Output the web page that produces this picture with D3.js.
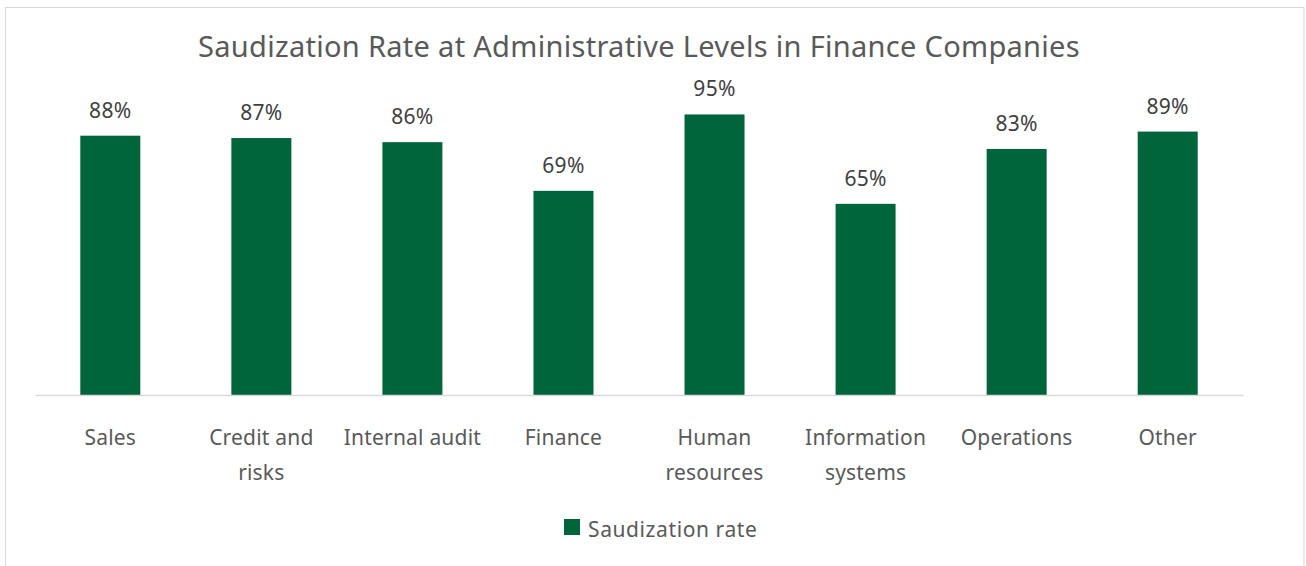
<!DOCTYPE html>
<html>
<head>
<meta charset="utf-8">
<script src="https://cdn.jsdelivr.net/npm/d3@7"></script>
<style>
  html, body { margin: 0; padding: 0; background: #fff; }
  svg { display: block; }
  text { font-family: "Noto Sans", sans-serif; }
</style>
</head>
<body>
<svg id="chart" width="1306" height="566"></svg>
<script>
const title = "Saudization Rate at Administrative Levels in Finance Companies";
const categories = ["Sales", "Credit and risks", "Internal audit", "Finance", "Human resources", "Information systems", "Operations", "Other"];
const values = [0.879, 0.871, 0.857, 0.692, 0.951, 0.648, 0.834, 0.893];
const seriesName = "Saudization rate";

const svg = d3.select("#chart");
const baseline = 395;

svg.append("rect")
  .attr("x", 5.5).attr("y", 7.5)
  .attr("width", 1298.5).attr("height", 600)
  .attr("fill", "#fff").attr("stroke", "#d9d9d9").attr("stroke-width", 1);

svg.append("text")
  .attr("x", 639).attr("y", 57)
  .attr("text-anchor", "middle")
  .attr("fill", "#595959")
  .style("font-size", "29px")
  .style("letter-spacing", "0.3px")
  .text(title);

const x = d3.scaleBand().domain(categories).range([35, 1243]).paddingInner(0.603).paddingOuter(0.3);
const y = d3.scaleLinear().domain([0, 1]).range([baseline, 100]);

const barW = 60;
const xc = d => x(d) + x.bandwidth() / 2;

svg.append("g").selectAll("rect")
  .data(categories)
  .join("rect")
  .attr("x", d => xc(d) - barW / 2)
  .attr("width", barW)
  .attr("y", (d, i) => y(values[i]))
  .attr("height", (d, i) => baseline - y(values[i]))
  .attr("fill", "#00653a");

svg.append("g").selectAll("text")
  .data(categories)
  .join("text")
  .attr("x", d => xc(d))
  .attr("y", (d, i) => y(values[i]) - 18)
  .attr("text-anchor", "middle")
  .attr("fill", "#404040")
  .style("font-size", "21px")
  .style("letter-spacing", "0.3px")
  .text((d, i) => d3.format(".0%")(values[i]));

const xAxis = d3.axisBottom(x).tickSize(0).tickFormat("");
const axisG = svg.append("g").attr("transform", `translate(0,${baseline})`).call(xAxis);
axisG.select(".domain").attr("stroke", "#d9d9d9").attr("stroke-width", 1.5);

const labelG = svg.append("g");
categories.forEach(c => {
  const t = labelG.append("text")
    .attr("x", xc(c))
    .attr("y", 445)
    .attr("text-anchor", "middle")
    .attr("fill", "#595959")
    .style("font-size", "21px")
    .style("letter-spacing", "0.2px");
  const words = c.split(" ");
  let lines = [], cur = [];
  words.forEach(w => {
    cur.push(w);
    t.text(cur.join(" "));
    if (t.node().getComputedTextLength() > 150 && cur.length > 1) {
      cur.pop();
      lines.push(cur.join(" "));
      cur = [w];
    }
  });
  lines.push(cur.join(" "));
  t.text(null);
  lines.forEach((l, i) => {
    t.append("tspan").attr("x", xc(c)).attr("y", 445 + i * 35).text(l);
  });
});

const lg = svg.append("g");
lg.append("rect").attr("x", 564).attr("y", 519).attr("width", 16).attr("height", 16).attr("fill", "#00653a");
lg.append("text").attr("x", 588).attr("y", 537)
  .attr("fill", "#595959")
  .style("font-size", "21px")
  .style("letter-spacing", "0.6px")
  .text(seriesName);
</script>
</body>
</html>
